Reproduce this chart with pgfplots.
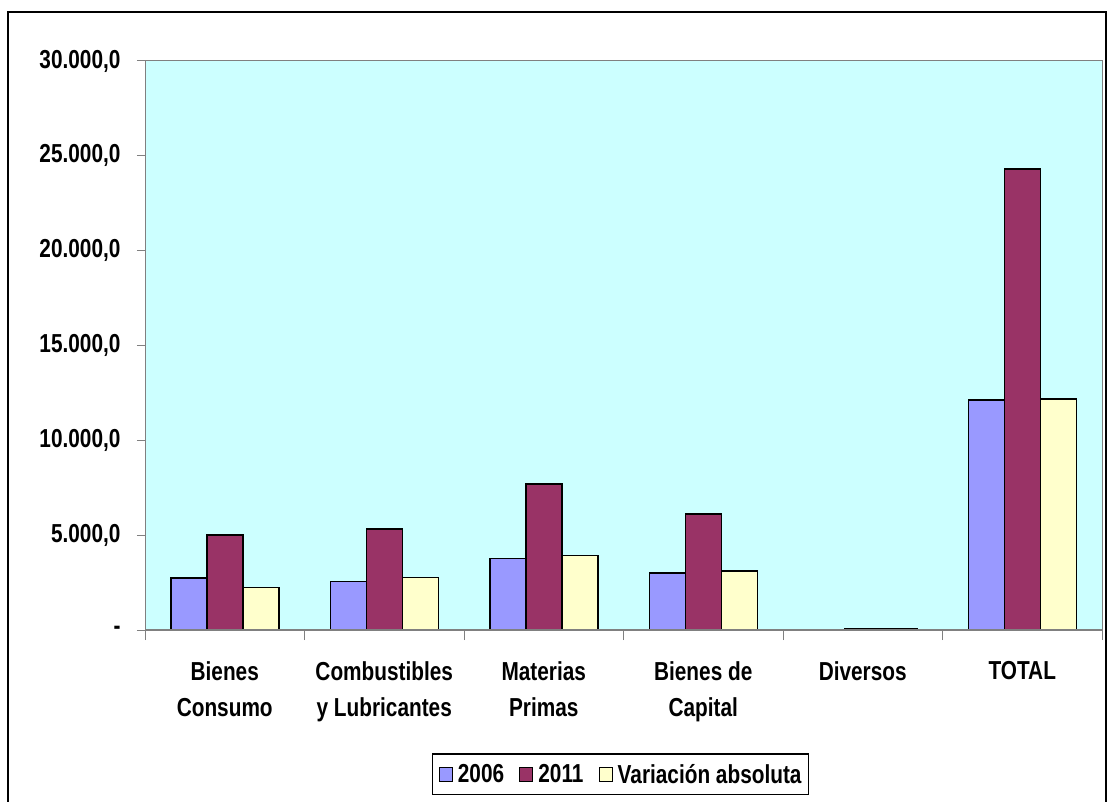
\documentclass[border=0pt]{standalone}
\usepackage{pgfplots}
\pgfplotsset{compat=1.18}
\usepackage{fontspec}
\setmainfont{Liberation Sans}[FakeStretch=0.8]

\definecolor{cA}{HTML}{9999FF}
\definecolor{cB}{HTML}{993366}
\definecolor{cC}{HTML}{FFFFCC}
\definecolor{bgc}{HTML}{CCFFFF}
\definecolor{axgray}{HTML}{808080}

\begin{document}
\begin{tikzpicture}[x=1pt,y=1pt]
\useasboundingbox (0,0) rectangle (1108,801);
\draw[line width=2pt] (8,-20) rectangle (1106,789);
\begin{axis}[
  at={(145pt,171pt)}, anchor=south west,
  scale only axis, width=957pt, height=569pt,
  axis background/.style={fill=bgc},
  axis line style={draw=axgray, line width=1pt},
  ybar=0pt, bar width=36pt,
  xmin=-0.5, xmax=5.5, ymin=0, ymax=30000,
  enlargelimits=false,
  xtick={0,...,5},
  xticklabels={{Bienes\\Consumo},{Combustibles\\y Lubricantes},{Materias\\Primas},{Bienes de\\Capital},{Diversos},{TOTAL}},
  minor xtick={-0.5,0.5,...,5.5},
  major x tick style={draw=none},
  minor x tick style={draw=axgray, line width=1pt},
  minor tick length=10pt,
  ytick={0,5000,...,30000},
  yticklabels={-,{5.000,0},{10.000,0},{15.000,0},{20.000,0},{25.000,0},{30.000,0}},
  scaled y ticks=false,
  ytick style={draw=axgray, line width=1pt},
  major tick length=8pt,
  tick align=outside, tick pos=left,
  ticklabel style={font=\bfseries\fontsize{26}{36}\selectfont},
  xticklabel style={align=center, yshift=-20pt},
  yticklabel style={xshift=-13pt},
  legend style={at={(0.497,-0.217)}, anchor=north, legend columns=-1,
    draw=black, line width=1.2pt, font=\bfseries\fontsize{26}{30}\selectfont,
    inner xsep=6pt, inner ysep=9pt, nodes={inner sep=1pt},
    /tikz/every odd column/.append style={column sep=4pt},
    /tikz/every even column/.append style={column sep=14pt}},
  legend image code/.code={\draw[#1,draw=black,line width=1.2pt] (0pt,-7pt) rectangle (13pt,7pt);},
  every axis plot/.append style={draw=black, line width=1.5pt},
]
\addplot[fill=cA] coordinates {(0,2750) (1,2550) (2,3780) (3,3000) (5,12120)};
\addplot[fill=cB] coordinates {(0,5000) (1,5330) (2,7700) (3,6110) (4,55) (5,24300)};
\addplot[fill=cC] coordinates {(0,2250) (1,2780) (2,3920) (3,3110) (4,50) (5,12180)};
\legend{2006,2011,Variación absoluta}
\draw[axgray, line width=2pt] (axis cs:-0.5,0) -- (axis cs:5.5,0);
\end{axis}
\end{tikzpicture}
\end{document}
